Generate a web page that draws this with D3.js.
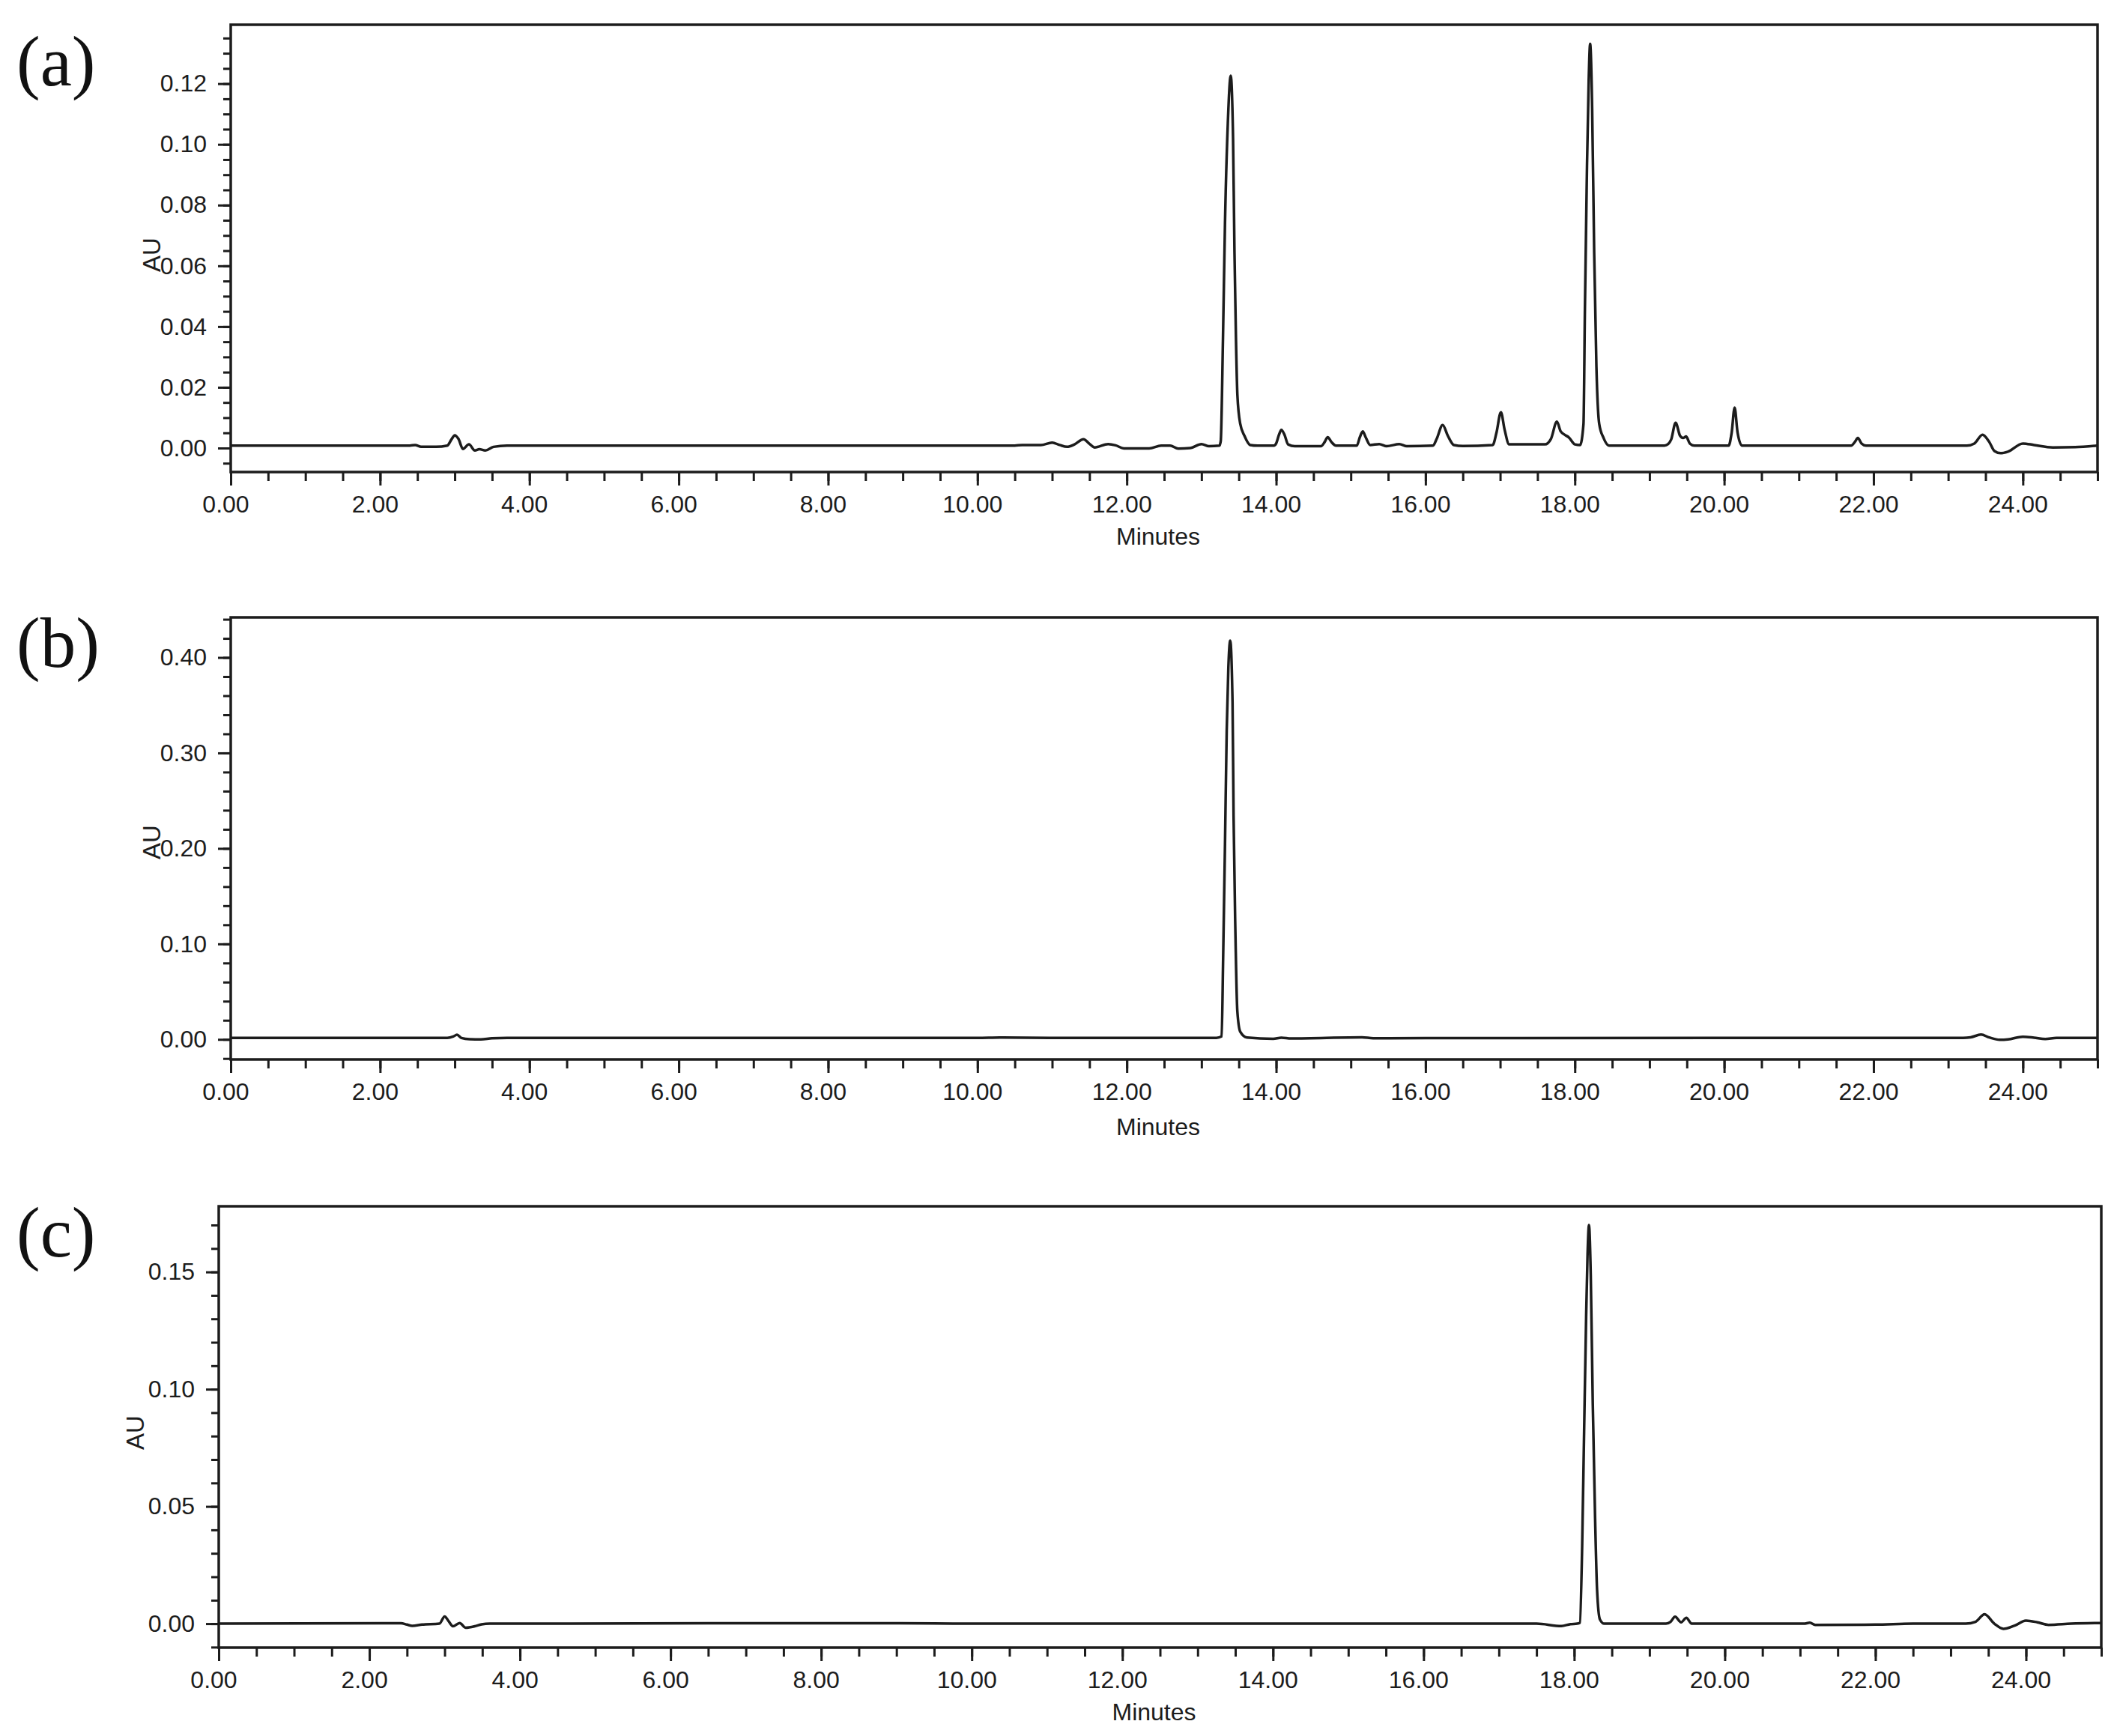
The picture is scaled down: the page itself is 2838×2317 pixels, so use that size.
<!DOCTYPE html>
<html>
<head>
<meta charset="utf-8">
<script src="https://cdn.jsdelivr.net/npm/d3@7"></script>
<style>
  html, body { margin: 0; padding: 0; background: #ffffff; }
  svg { display: block; }
</style>
</head>
<body>
<svg id="chart" width="2838" height="2317"></svg>
<script>
// ---------------- DATA ----------------
const panelLabels = ["(a)", "(b)", "(c)"];
const xAxisTitle = "Minutes";
const yAxisTitle = "AU";
const xMajorTicks = [0, 2, 4, 6, 8, 10, 12, 14, 16, 18, 20, 22, 24];
const xMinorStep = 0.5;
const xDomain = [0, 25];

// panel (a) – sample chromatogram
const yDomainA = [-0.0079, 0.1394];
const yMajorA = [0.00, 0.02, 0.04, 0.06, 0.08, 0.10, 0.12];
const yMinorStepA = 0.005;
const timeA = [0, 2.4, 2.47, 2.55, 2.75, 2.9, 2.96, 3.0, 3.05, 3.11, 3.19, 3.27, 3.33, 3.41, 3.52, 3.7,
  10.5, 10.6, 10.85, 11.0, 11.1, 11.2, 11.3, 11.42, 11.5, 11.57, 11.75, 11.85, 11.96, 12.3, 12.46, 12.58,
  12.69, 12.85, 13.0, 13.1, 13.24, 13.258, 13.288, 13.315, 13.353, 13.392, 13.423, 13.442, 13.462, 13.481,
  13.519, 13.576, 13.653, 13.75, 13.97, 14.0, 14.04, 14.07, 14.11, 14.16, 14.25, 14.6, 14.65, 14.69, 14.74,
  14.8, 15.08, 15.12, 15.16, 15.2, 15.26, 15.38, 15.48, 15.65, 15.75, 16.1, 16.15, 16.23, 16.3, 16.38, 16.5,
  16.9, 16.95, 17.01, 17.06, 17.12, 17.6, 17.68, 17.76, 17.81, 17.87, 17.92, 18.0, 18.07, 18.116, 18.135,
  18.163, 18.186, 18.205, 18.232, 18.259, 18.289, 18.327, 18.385, 18.46, 19.2, 19.25, 19.29, 19.35, 19.41,
  19.45, 19.49, 19.54, 19.6, 20.06, 20.1, 20.14, 20.18, 20.24, 21.7, 21.75, 21.79, 21.84, 21.9, 23.25, 23.35,
  23.46, 23.55, 23.62, 23.7, 23.8, 24.0, 24.15, 24.4, 24.7, 25];
const auA = [0.0008, 0.0008, 0.0010, 0.0004, 0.0004, 0.0008, 0.0030, 0.0042, 0.0030, -0.0003, 0.0012, -0.0008, -0.0004, -0.0008, 0.0004, 0.0008,
  0.0008, 0.0010, 0.0010, 0.0018, 0.0010, 0.0004, 0.0012, 0.0029, 0.0014, 0.0002, 0.0013, 0.0009, -0.0001, -0.0001, 0.0008, 0.0008,
  -0.0002, 0.0000, 0.0013, 0.0006, 0.0008, 0.0023, 0.036, 0.074, 0.107, 0.1226, 0.102, 0.0646, 0.036, 0.0175,
  0.008, 0.004, 0.0010, 0.0008, 0.0008, 0.0015, 0.0045, 0.0060, 0.0045, 0.0012, 0.0006, 0.0006, 0.0020, 0.0036, 0.0020,
  0.0008, 0.0008, 0.0035, 0.0055, 0.0035, 0.0010, 0.0013, 0.0006, 0.0013, 0.0006, 0.0008, 0.0030, 0.0076, 0.0040, 0.0010, 0.0007,
  0.0010, 0.0050, 0.0118, 0.0060, 0.0012, 0.0012, 0.0030, 0.0087, 0.0055, 0.0043, 0.0035, 0.0012, 0.0010, 0.0079, 0.0457,
  0.0929, 0.1213, 0.1331, 0.1118, 0.0646, 0.0268, 0.0079, 0.0033, 0.0008, 0.0008, 0.0013, 0.0028, 0.0083, 0.0040,
  0.0033, 0.0038, 0.0015, 0.0008, 0.0008, 0.0050, 0.0133, 0.0050, 0.0008, 0.0008, 0.0020, 0.0033, 0.0015, 0.0008, 0.0008, 0.0015,
  0.0044, 0.0020, -0.0010, -0.0017, -0.0012, 0.0015, 0.0010, 0.0002, 0.0003, 0.0008];

// panel (b)
const yDomainB = [-0.021, 0.442];
const yMajorB = [0.00, 0.10, 0.20, 0.30, 0.40];
const yMinorStepB = 0.02;
const timeB = [0, 2.9, 2.98, 3.03, 3.09, 3.2, 3.35, 3.5, 3.7, 10.0, 10.3, 11.0, 13.2, 13.27, 13.29, 13.315,
  13.338, 13.36, 13.385, 13.416, 13.43, 13.454, 13.48, 13.52, 13.61, 13.96, 14.07, 14.2, 15.15, 15.3, 16.0,
  23.2, 23.3, 23.44, 23.55, 23.69, 23.8, 24.0, 24.15, 24.3, 24.45, 25];
const auB = [0.0016, 0.0016, 0.0030, 0.0048, 0.0015, 0.0002, 0.0000, 0.0012, 0.0016, 0.0016, 0.0020, 0.0016, 0.0016, 0.0031, 0.084, 0.204,
  0.323, 0.389, 0.4176, 0.353, 0.234, 0.114, 0.030, 0.008, 0.002, 0.0006, 0.0018, 0.0010, 0.0022, 0.0012, 0.0014,
  0.0016, 0.0022, 0.0050, 0.0020, -0.0004, 0.0000, 0.0028, 0.0018, 0.0004, 0.0016, 0.0016];

// panel (c)
const yDomainC = [-0.0102, 0.178];
const yMajorC = [0.00, 0.05, 0.10, 0.15];
const yMinorStepC = 0.01;
const timeC = [0, 2.42, 2.5, 2.57, 2.7, 2.93, 3.0, 3.05, 3.11, 3.2, 3.28, 3.4, 3.49, 3.6, 8.5, 9.0, 10.0, 17.5,
  17.83, 17.95, 18.04, 18.076, 18.106, 18.132, 18.159, 18.178, 18.197, 18.22, 18.247, 18.278, 18.304, 18.342, 18.40,
  19.22, 19.28, 19.34, 19.42, 19.49, 19.56, 21.05, 21.13, 21.2, 22.0, 22.5, 23.2, 23.33, 23.45, 23.58, 23.70,
  23.85, 24.0, 24.15, 24.3, 24.6, 25];
const auC = [0.0, 0.0002, -0.0004, -0.0009, -0.0004, 0.0, 0.0031, 0.0012, -0.0011, 0.0003, -0.0017, -0.0011, -0.0003, 0.0, 0.0002, 0.0002, 0.0, 0.0,
  -0.0010, -0.0002, 0.0, 0.0004, 0.0329, 0.0818, 0.1308, 0.1577, 0.170, 0.149, 0.094, 0.045, 0.0145, 0.0018, 0.0,
  0.0, 0.0008, 0.0030, 0.0006, 0.0025, 0.0, 0.0, 0.0004, -0.0005, -0.0004, 0.0, 0.0, 0.0008, 0.0040, 0.0, -0.0022,
  -0.0008, 0.0013, 0.0006, -0.0005, 0.0, 0.0003];

// ---------------- LAYOUT ----------------
const panels = [
  { label: panelLabels[0], time: timeA, au: auA, yDomain: yDomainA, yMajor: yMajorA, yMinorStep: yMinorStepA,
    box: { left: 308, right: 2800, top: 33, bottom: 630 }, labelPos: [22, 114], auPos: [202, 340], minutesDy: 97 },
  { label: panelLabels[1], time: timeB, au: auB, yDomain: yDomainB, yMajor: yMajorB, yMinorStep: yMinorStepB,
    box: { left: 308, right: 2800, top: 824, bottom: 1414 }, labelPos: [22, 890], auPos: [202, 1124], minutesDy: 101 },
  { label: panelLabels[2], time: timeC, au: auC, yDomain: yDomainC, yMajor: yMajorC, yMinorStep: yMinorStepC,
    box: { left: 292, right: 2805, top: 1610, bottom: 2199 }, labelPos: [22, 1677], auPos: [180, 1912], minutesDy: 97 }
];

const INK = "#1c1c1c";
const FONT = "'Liberation Sans', Arial, Helvetica, sans-serif";
const svg = d3.select("#chart");

panels.forEach((p, i) => {
  const b = p.box;
  const x = d3.scaleLinear().domain(xDomain).range([b.left, b.right]);
  const y = d3.scaleLinear().domain(p.yDomain).range([b.bottom, b.top]);
  const g = svg.append("g");

  const clipId = "clip" + i;
  svg.append("clipPath").attr("id", clipId).append("rect")
    .attr("x", b.left).attr("y", b.top).attr("width", b.right - b.left).attr("height", b.bottom - b.top);

  // minor x ticks
  const xMinor = d3.range(xDomain[0], xDomain[1] + 1e-9, xMinorStep);
  g.append("g").attr("transform", `translate(0,${b.bottom})`)
    .call(d3.axisBottom(x).tickValues(xMinor).tickSize(12).tickFormat(""))
    .call(s => s.select(".domain").remove())
    .call(s => s.selectAll("line").attr("stroke", INK).attr("stroke-width", 3));

  // major x ticks
  const xa = g.append("g").attr("transform", `translate(0,${b.bottom})`)
    .call(d3.axisBottom(x).tickValues(xMajorTicks).tickSize(18).tickPadding(13).tickFormat(d3.format(".2f")));
  xa.select(".domain").remove();
  xa.selectAll("line").attr("stroke", INK).attr("stroke-width", 3);
  xa.selectAll("text").attr("font-family", FONT).attr("font-size", 32).attr("fill", INK).attr("x", -7);

  // minor y ticks
  const yMinor = d3.range(Math.ceil(p.yDomain[0] / p.yMinorStep) * p.yMinorStep, p.yDomain[1] + 1e-9, p.yMinorStep)
    .map(v => +v.toFixed(6));
  g.append("g").attr("transform", `translate(${b.left},0)`)
    .call(d3.axisLeft(y).tickValues(yMinor).tickSize(10).tickFormat(""))
    .call(s => s.select(".domain").remove())
    .call(s => s.selectAll("line").attr("stroke", INK).attr("stroke-width", 3));

  // major y ticks
  const ya = g.append("g").attr("transform", `translate(${b.left},0)`)
    .call(d3.axisLeft(y).tickValues(p.yMajor).tickSize(17).tickPadding(15).tickFormat(d3.format(".2f")));
  ya.select(".domain").remove();
  ya.selectAll("line").attr("stroke", INK).attr("stroke-width", 3);
  ya.selectAll("text").attr("font-family", FONT).attr("font-size", 32).attr("fill", INK);

  // trace
  const pts = p.time.map((t, k) => [t, p.au[k]]);
  g.append("path")
    .datum(pts)
    .attr("clip-path", `url(#${clipId})`)
    .attr("fill", "none")
    .attr("stroke", INK)
    .attr("stroke-width", 3.5)
    .attr("stroke-linejoin", "round")
    .attr("d", d3.line().x(d => x(d[0])).y(d => y(d[1])).curve(d3.curveMonotoneX));

  // frame
  g.append("rect")
    .attr("x", b.left).attr("y", b.top)
    .attr("width", b.right - b.left).attr("height", b.bottom - b.top)
    .attr("fill", "none").attr("stroke", INK).attr("stroke-width", 3.5);

  // axis titles
  g.append("text")
    .attr("x", (b.left + b.right) / 2 - 8).attr("y", b.bottom + p.minutesDy)
    .attr("text-anchor", "middle").attr("font-family", FONT).attr("font-size", 32).attr("fill", INK)
    .text(xAxisTitle);
  g.append("text")
    .attr("transform", `translate(${p.auPos[0]},${p.auPos[1]}) rotate(-90)`)
    .attr("text-anchor", "middle").attr("dy", "0.35em")
    .attr("font-family", FONT).attr("font-size", 33).attr("fill", INK)
    .text(yAxisTitle);

  // panel label
  g.append("text")
    .attr("x", p.labelPos[0]).attr("y", p.labelPos[1])
    .attr("font-family", "'Liberation Serif', 'Times New Roman', serif").attr("font-size", 95).attr("fill", "#111")
    .text(p.label);
});
</script>
</body>
</html>
